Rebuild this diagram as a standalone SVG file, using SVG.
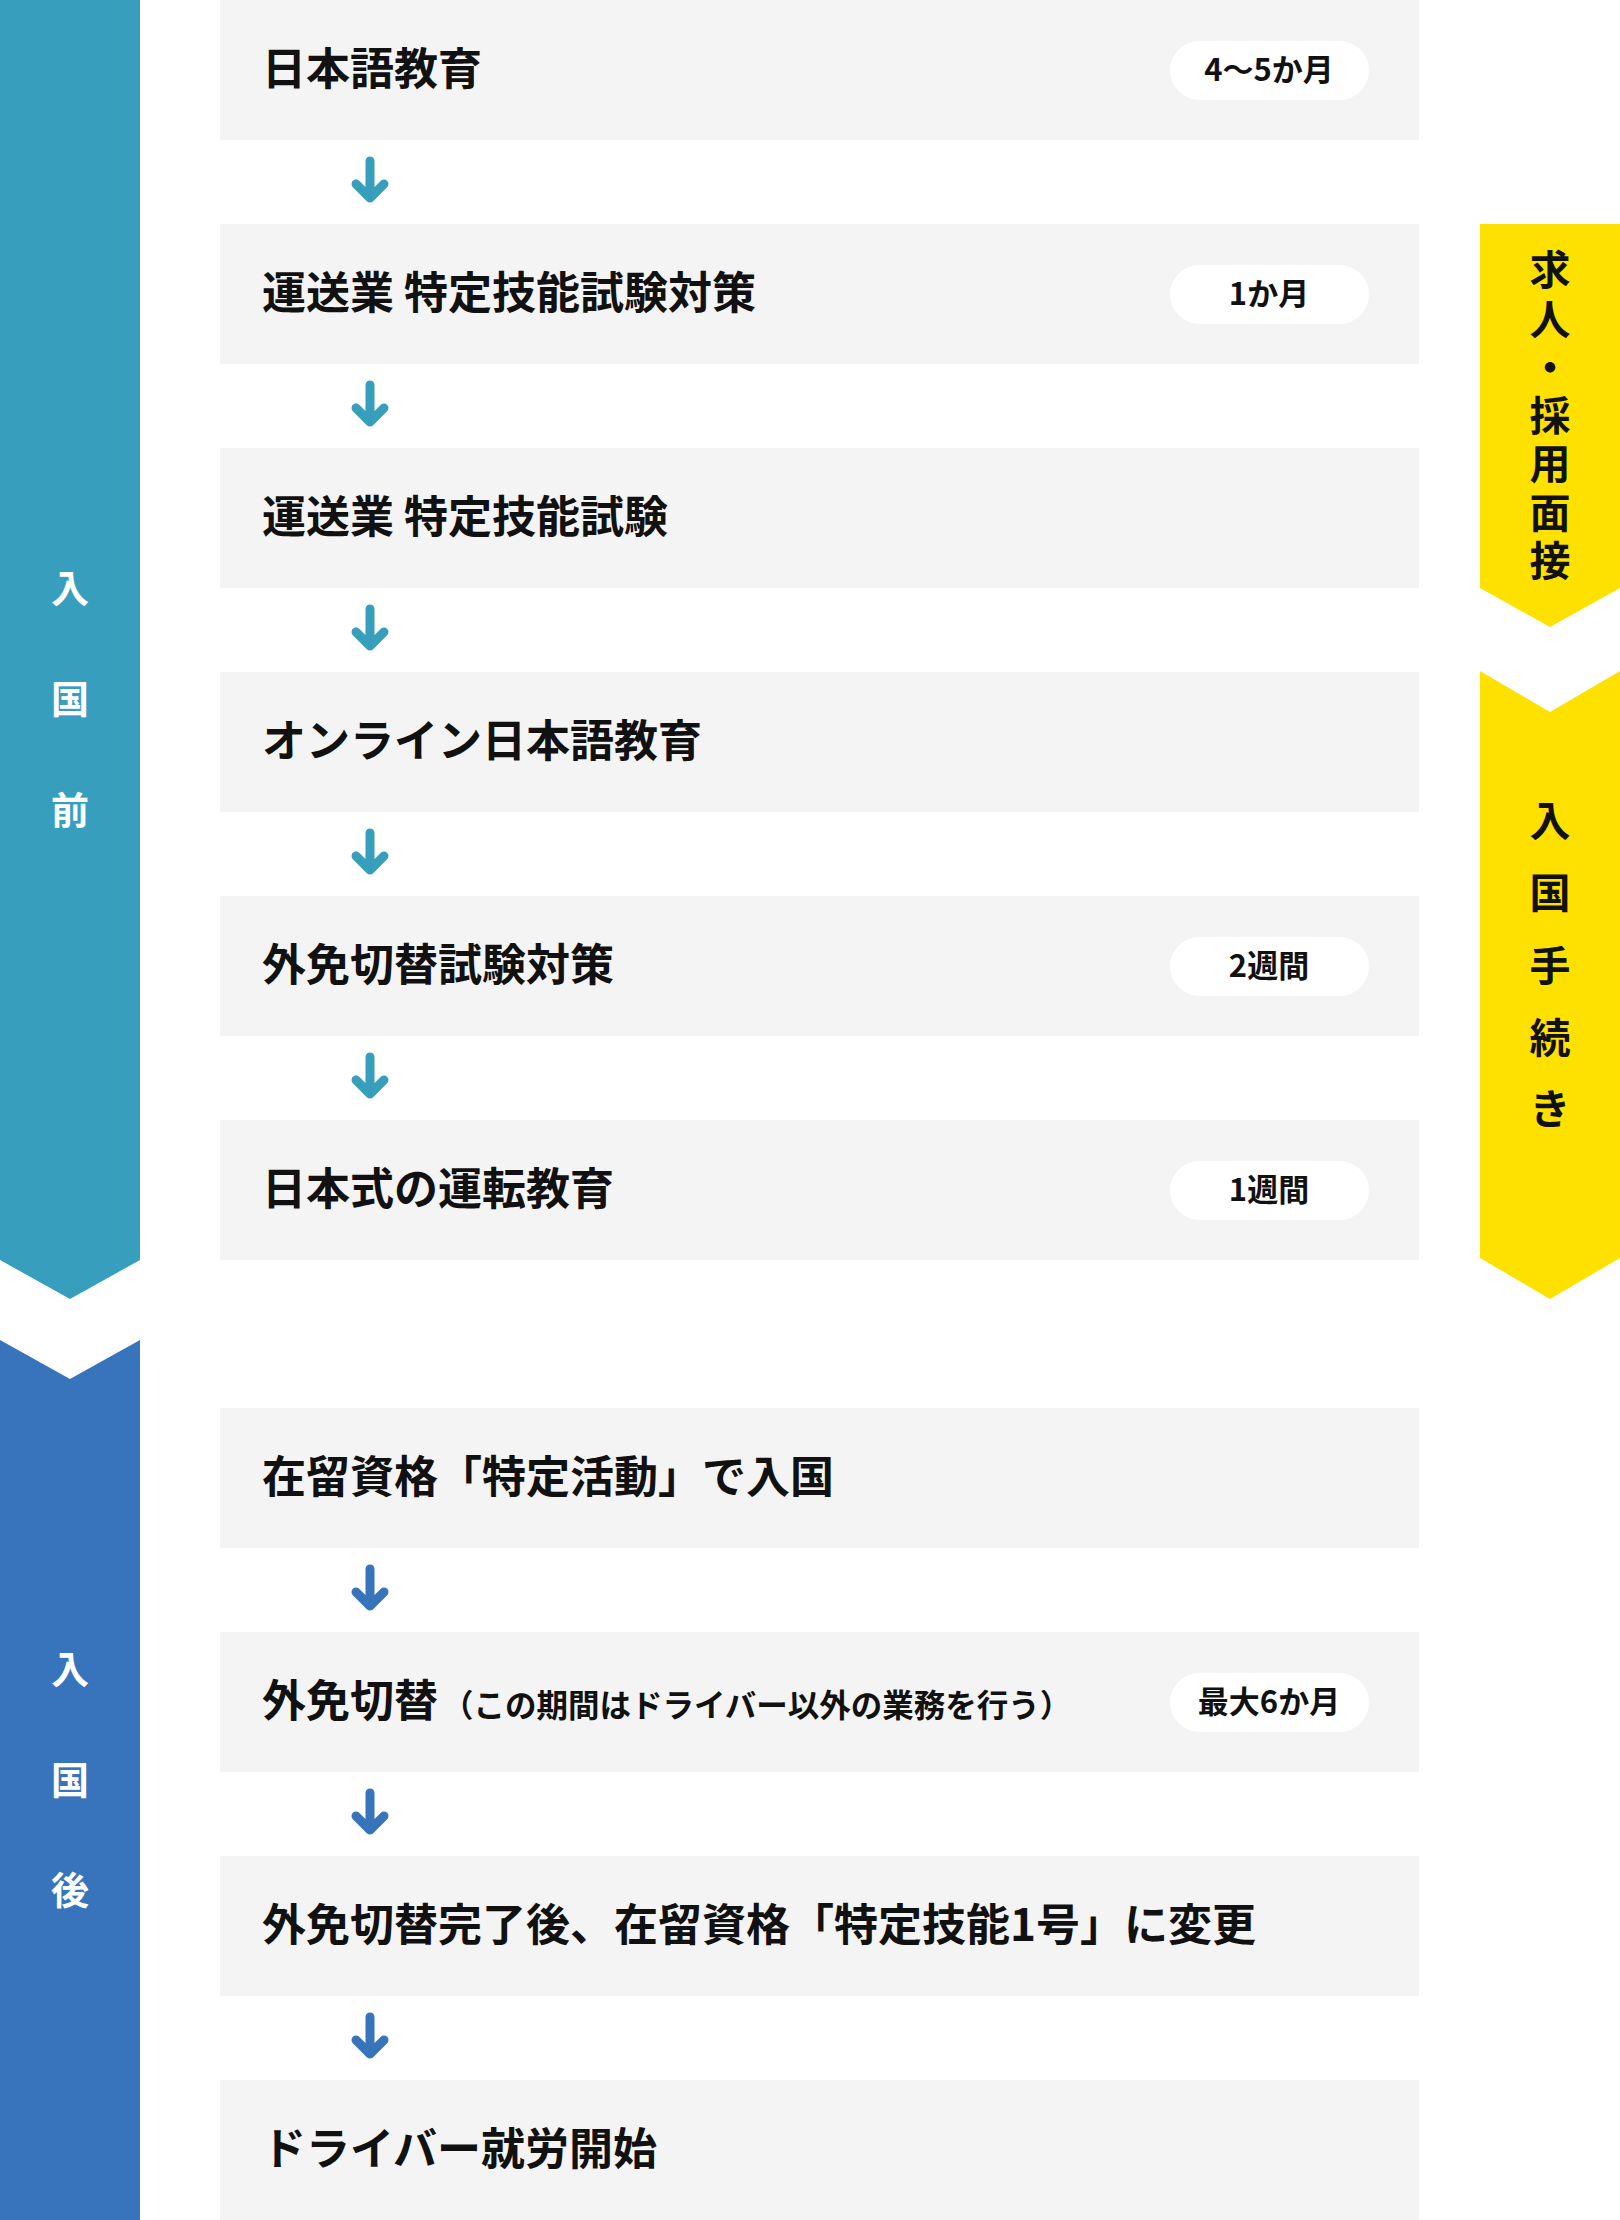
<svg xmlns="http://www.w3.org/2000/svg" width="1620" height="2220" viewBox="0 0 1620 2220">
<style>
.box{fill:#F4F4F4}
.pill{fill:#FFFFFF}
.t{font-family:"Noto Sans CJK JP","Noto Sans",sans-serif;font-weight:700;fill:#111111}
.lbl{font-size:44px}
.sub{font-size:31.5px}
.pt{font-size:31px;text-anchor:middle}
.side{font-family:"Noto Sans CJK JP","Noto Sans",sans-serif;font-weight:700;text-anchor:middle}
.sw{fill:#FFFFFF;font-size:38px}
.sy{fill:#111111;font-size:41px}
.arT{stroke:#379FBD}
.arB{stroke:#3874BC}
.ar{fill:none;stroke-width:9;stroke-linecap:round;stroke-linejoin:round}
</style>
<rect width="1620" height="2220" fill="#FFFFFF"/>

<g id="phase-before">
<polygon points="0,0 140,0 140,1260 70,1299 0,1260" fill="#379FBD"/>
<text class="side sw" x="70" y="602">入</text>
<text class="side sw" x="70" y="713">国</text>
<text class="side sw" x="70" y="824">前</text>
</g>
<g id="phase-after">
<polygon points="0,1340 70,1379 140,1340 140,2220 0,2220" fill="#3874BC"/>
<text class="side sw" x="70" y="1683">入</text>
<text class="side sw" x="70" y="1794">国</text>
<text class="side sw" x="70" y="1904">後</text>
</g>
<g id="side-recruit">
<polygon points="1480,224 1620,224 1620,588 1550,627 1480,588" fill="#FFE100"/>
<text class="side sy" x="1550" y="285">求</text>
<text class="side sy" x="1550" y="335">人</text>
<text class="side sy" x="1550" y="383">・</text>
<text class="side sy" x="1550" y="431">採</text>
<text class="side sy" x="1550" y="479">用</text>
<text class="side sy" x="1550" y="528">面</text>
<text class="side sy" x="1550" y="576">接</text>
</g>
<g id="side-entry">
<polygon points="1480,671 1550,712 1620,671 1620,1258 1550,1299 1480,1258" fill="#FFE100"/>
<text class="side sy" x="1550" y="836">入</text>
<text class="side sy" x="1550" y="908">国</text>
<text class="side sy" x="1550" y="981">手</text>
<text class="side sy" x="1550" y="1053">続</text>
<text class="side sy" x="1550" y="1124">き</text>
</g>

<g id="step1">
<rect class="box" x="220" y="0" width="1199" height="140"/>
<text class="t lbl" x="262" y="85">日本語教育</text>
<rect class="pill" x="1170" y="41" width="199" height="59" rx="29.5"/>
<text class="t pt" x="1269" y="81">4〜5か月</text>
</g>
<g id="step2">
<rect class="box" x="220" y="224" width="1199" height="140"/>
<text class="t lbl" x="262" y="309">運送業 特定技能試験対策</text>
<rect class="pill" x="1170" y="265" width="199" height="59" rx="29.5"/>
<text class="t pt" x="1269" y="305">1か月</text>
</g>
<g id="step3">
<rect class="box" x="220" y="448" width="1199" height="140"/>
<text class="t lbl" x="262" y="533">運送業 特定技能試験</text>
</g>
<g id="step4">
<rect class="box" x="220" y="672" width="1199" height="140"/>
<text class="t lbl" x="262" y="757">オンライン日本語教育</text>
</g>
<g id="step5">
<rect class="box" x="220" y="896" width="1199" height="140"/>
<text class="t lbl" x="262" y="981">外免切替試験対策</text>
<rect class="pill" x="1170" y="937" width="199" height="59" rx="29.5"/>
<text class="t pt" x="1269" y="977">2週間</text>
</g>
<g id="step6">
<rect class="box" x="220" y="1120" width="1199" height="140"/>
<text class="t lbl" x="262" y="1205">日本式の運転教育</text>
<rect class="pill" x="1170" y="1161" width="199" height="59" rx="29.5"/>
<text class="t pt" x="1269" y="1201">1週間</text>
</g>
<g id="step7">
<rect class="box" x="220" y="1408" width="1199" height="140"/>
<text class="t lbl" x="262" y="1493">在留資格「特定活動」で入国</text>
</g>
<g id="step8">
<rect class="box" x="220" y="1632" width="1199" height="140"/>
<text class="t lbl" x="262" y="1717">外免切替<tspan class="sub" dx="4">（この期間はドライバー以外の業務を行う）</tspan></text>
<rect class="pill" x="1170" y="1673" width="199" height="59" rx="29.5"/>
<text class="t pt" x="1269" y="1713">最大6か月</text>
</g>
<g id="step9">
<rect class="box" x="220" y="1856" width="1199" height="140"/>
<text class="t lbl" x="262" y="1941">外免切替完了後、在留資格「特定技能1号」に変更</text>
</g>
<g id="step10">
<rect class="box" x="220" y="2080" width="1199" height="140"/>
<text class="t lbl" x="262" y="2165">ドライバー就労開始</text>
</g>

<g id="connectors">
<g class="ar arT">
<path d="M370,161 V197 M356,184 L370,198 L384,184"/>
<path d="M370,385 V421 M356,408 L370,422 L384,408"/>
<path d="M370,609 V645 M356,632 L370,646 L384,632"/>
<path d="M370,833 V869 M356,856 L370,870 L384,856"/>
<path d="M370,1057 V1093 M356,1080 L370,1094 L384,1080"/>
</g>
<g class="ar arB">
<path d="M370,1569 V1605 M356,1592 L370,1606 L384,1592"/>
<path d="M370,1793 V1829 M356,1816 L370,1830 L384,1816"/>
<path d="M370,2017 V2053 M356,2040 L370,2054 L384,2040"/>
</g>
</g>
</svg>
